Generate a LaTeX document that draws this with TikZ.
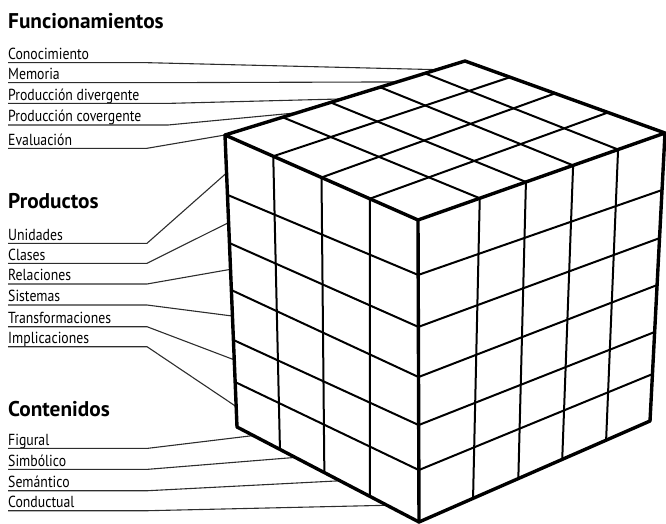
\documentclass[tikz,border=0pt]{standalone}
\usepackage{fontspec}
\setmainfont{PT Sans}
\newfontfamily\labelfont[FakeStretch=0.86]{PT Sans}
\definecolor{GuilfordInk}{RGB}{0, 0, 0}
\definecolor{GuilfordLead}{RGB}{45, 45, 45}
\usepackage{tikz}
\usetikzlibrary{calc}
\tikzset{
  cubeedge/.style={draw=GuilfordInk, line width=3.4pt, line join=round, line cap=round},
  cubegrid/.style={draw=GuilfordInk, line width=2pt},
  leader/.style={draw=GuilfordLead, line width=1.1pt},
  lbl/.style={anchor=south west, inner sep=0pt, text depth=3pt, font=\labelfont\fontsize{16}{18}\selectfont},
  heading/.style={anchor=base west, inner sep=0pt, font=\fontsize{21.3}{24}\selectfont\bfseries}
}

\begin{document}
\begin{tikzpicture}[x=1pt, y=-1pt]
    \useasboundingbox (0,0) rectangle (666,524);
    % corners of the cube
    \coordinate (T) at (465,61);
    \coordinate (L) at (225,135);
    \coordinate (F) at (418,220);
    \coordinate (R) at (665,133);
    \coordinate (LB) at (237,427);
    \coordinate (FB) at (419,522);
    \coordinate (RB) at (650,421);

    % headings
    \node[heading] (hfun) at (8,29) {Funcionamientos};
    \node[heading] (hpro) at (8,208) {Productos};
    \node[heading] (hcon) at (8,416) {Contenidos};

    % labels and leaders
    \foreach \name/\txt/\uy/\run/\f in {cono/Conocimiento/62.7/140/0.883, memo/Memoria/82.7/140/0.717,
        pdiv/Producción divergente/103.4/160/0.4875, pcov/Producción covergente/125/160/0.3,
        eval/Evaluación/148.3/139/0} {
      \node[lbl] (\name) at (8,\uy) {\txt};
      \coordinate (\name-tip) at ($(L)!\f!(T)$);
      \draw[leader] (\name.south west) -- ++(\run,0) -- (\name-tip);
    }
    \foreach \name/\txt/\uy/\f in {unid/Unidades/243.3/0.13, clas/Clases/263.3/0.30,
        rela/Relaciones/284/0.46, sist/Sistemas/305/0.62,
        tran/Transformaciones/326.7/0.77, impl/Implicaciones/346.7/0.93} {
      \node[lbl] (\name) at (8,\uy) {\txt};
      \coordinate (\name-tip) at ($(L)!\f!(LB)$);
      \draw[leader] (\name.south west) -- ++(139,0) -- (\name-tip);
    }
    \foreach \name/\txt/\uy/\f in {figu/Figural/448.3/0.09, simb/Simbólico/469.3/0.32,
        sema/Semántico/490.7/0.566, cond/Conductual/510.7/0.824} {
      \node[lbl] (\name) at (8,\uy) {\txt};
      \coordinate (\name-tip) at ($(LB)!\f!(FB)$);
      \draw[leader] (\name.south west) -- ++(140,0) -- (\name-tip);
    }

    % cube
    \fill[white] (L) -- (T) -- (R) -- (RB) -- (FB) -- (LB) -- cycle;
    \foreach \p/\q/\r in {0.205/0.182/0.198, 0.37/0.354/0.365, 0.531/0.52/0.528,
        0.702/0.679/0.691, 0.846/0.828/0.837}
      \draw[cubegrid] ($(L)!\p!(LB)$) -- ($(F)!\q!(FB)$) -- ($(R)!\r!(RB)$);
    \foreach \a/\b/\c in {0.25/0.236/0.225, 0.5/0.48/0.45, 0.75/0.73/0.715}
      \draw[cubegrid] ($(LB)!\b!(FB)$) -- ($(L)!\a!(F)$) -- ($(T)!\c!(R)$);
    \foreach \a/\b/\c in {0.25/0.234/0.24, 0.437/0.43/0.44, 0.628/0.62/0.646, 0.81/0.81/0.833}
      \draw[cubegrid] ($(FB)!\b!(RB)$) -- ($(F)!\a!(R)$) -- ($(L)!\c!(T)$);
    \draw[cubeedge] (L) -- (T) -- (R) -- (RB) -- (FB) -- (LB) -- cycle;
    \draw[cubeedge] (L) -- (F) -- (R) (F) -- (FB);
\end{tikzpicture}
\end{document}
